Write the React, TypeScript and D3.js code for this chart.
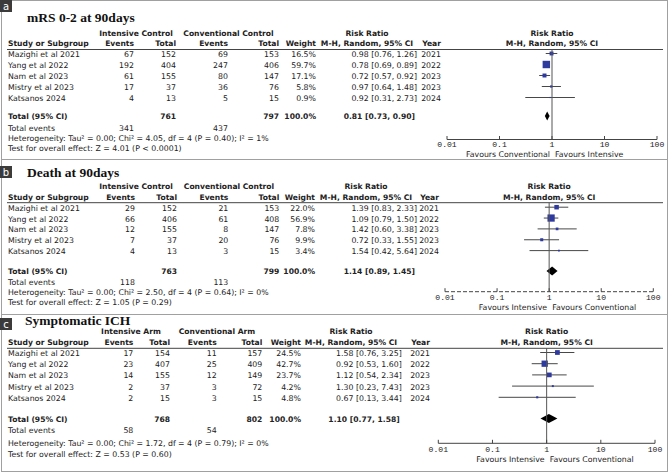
import React from "react";
import * as d3 from "d3";

// ---------- shared data ----------
const STUDIES = ["Mazighi et al 2021", "Yang et al 2022", "Nam et al 2023", "Mistry et al 2023", "Katsanos 2024"];
const YEARS = ["2021", "2022", "2023", "2023", "2024"];
const TICKS = [0.01, 0.1, 1, 10, 100];
const TICK_LABELS = ["0.01", "0.1", "1", "10", "100"];

// ---------- panel a: mRS 0-2 at 90days ----------
const A_INT_EVENTS = [67, 192, 61, 17, 4];
const A_INT_TOTAL = [152, 404, 155, 37, 13];
const A_CONV_EVENTS = [69, 247, 80, 36, 5];
const A_CONV_TOTAL = [153, 406, 147, 76, 15];
const A_WEIGHT = [16.5, 59.7, 17.1, 5.8, 0.9];
const A_RR = [0.98, 0.78, 0.72, 0.97, 0.92];
const A_LO = [0.76, 0.69, 0.57, 0.64, 0.31];
const A_HI = [1.26, 0.89, 0.92, 1.48, 2.73];
const A_TOTALS = [761, 797];
const A_TOTAL_EVENTS = [341, 437];
const A_POOLED = [0.81, 0.73, 0.9];

// ---------- panel b: Death at 90days ----------
const B_INT_EVENTS = [29, 66, 12, 7, 4];
const B_INT_TOTAL = [152, 406, 155, 37, 13];
const B_CONV_EVENTS = [21, 61, 8, 20, 3];
const B_CONV_TOTAL = [153, 408, 147, 76, 15];
const B_WEIGHT = [22.0, 56.9, 7.8, 9.9, 3.4];
const B_RR = [1.39, 1.09, 1.42, 0.72, 1.54];
const B_LO = [0.83, 0.79, 0.6, 0.33, 0.42];
const B_HI = [2.33, 1.5, 3.38, 1.55, 5.64];
const B_TOTALS = [763, 799];
const B_TOTAL_EVENTS = [118, 113];
const B_POOLED = [1.14, 0.89, 1.45];

// ---------- panel c: Symptomatic ICH ----------
const C_INT_EVENTS = [17, 23, 14, 2, 2];
const C_INT_TOTAL = [154, 407, 155, 37, 15];
const C_CONV_EVENTS = [11, 25, 12, 3, 3];
const C_CONV_TOTAL = [157, 409, 149, 72, 15];
const C_WEIGHT = [24.5, 42.7, 23.7, 4.2, 4.8];
const C_RR = [1.58, 0.92, 1.12, 1.3, 0.67];
const C_LO = [0.76, 0.53, 0.54, 0.23, 0.13];
const C_HI = [3.25, 1.6, 2.34, 7.43, 3.44];
const C_TOTALS = [768, 802];
const C_TOTAL_EVENTS = [58, 54];
const C_POOLED = [1.1, 0.77, 1.58];

const PANEL_A = {
  letter: "a", title: "mRS 0-2 at 90days", group1: "Intensive Control", group2: "Conventional Control",
  intEvents: A_INT_EVENTS, intTotal: A_INT_TOTAL, convEvents: A_CONV_EVENTS, convTotal: A_CONV_TOTAL,
  weight: A_WEIGHT, rr: A_RR, lo: A_LO, hi: A_HI, totals: A_TOTALS, totalEvents: A_TOTAL_EVENTS, pooled: A_POOLED,
  het: "Heterogeneity: Tau² = 0.00; Chi² = 4.05, df = 4 (P = 0.40); I² = 1%",
  test: "Test for overall effect: Z = 4.01 (P < 0.0001)",
  favLeft: "Favours Conventional", favRight: "Favours Intensive", dashedAxis: false,
};
const PANEL_B = {
  letter: "b", title: "Death at 90days", group1: "Intensive Control", group2: "Conventional Control",
  intEvents: B_INT_EVENTS, intTotal: B_INT_TOTAL, convEvents: B_CONV_EVENTS, convTotal: B_CONV_TOTAL,
  weight: B_WEIGHT, rr: B_RR, lo: B_LO, hi: B_HI, totals: B_TOTALS, totalEvents: B_TOTAL_EVENTS, pooled: B_POOLED,
  het: "Heterogeneity: Tau² = 0.00; Chi² = 2.50, df = 4 (P = 0.64); I² = 0%",
  test: "Test for overall effect: Z = 1.05 (P = 0.29)",
  favLeft: "Favours Intensive", favRight: "Favours Conventional", dashedAxis: true,
};
const PANEL_C = {
  letter: "c", title: "Symptomatic ICH", group1: "Intensive Arm", group2: "Conventional Arm",
  intEvents: C_INT_EVENTS, intTotal: C_INT_TOTAL, convEvents: C_CONV_EVENTS, convTotal: C_CONV_TOTAL,
  weight: C_WEIGHT, rr: C_RR, lo: C_LO, hi: C_HI, totals: C_TOTALS, totalEvents: C_TOTAL_EVENTS, pooled: C_POOLED,
  het: "Heterogeneity: Tau² = 0.00; Chi² = 1.72, df = 4 (P = 0.79); I² = 0%",
  test: "Test for overall effect: Z = 0.53 (P = 0.60)",
  favLeft: "Favours Intensive", favRight: "Favours Conventional", dashedAxis: false,
};

// ---------- layout (positions only) ----------
const LAYOUT_A = {
  boxY: 0, titleX: 27, titleY: 22, hdr1: 36, hdr2: 46, line: 49.5, row0: 57, rowStep: 11,
  totalY: 119, eventsY: 131, hetY: 141, testY: 151, axisY: 139.5, tickY: 146.6, favY: 156.6,
  ev1R: 134, tot1R: 176, ev2R: 228, tot2R: 279, wR: 316, rrR: 417, rrC: 367, yearR: 441,
  g1C: 136, g2C: 228.5, px0: 447, px1: 657,
};
const LAYOUT_B = {
  boxY: 166, titleX: 27, titleY: 176.7, hdr1: 189.3, hdr2: 200, line: 202.7, row0: 210.7, rowStep: 10.85,
  totalY: 274, eventsY: 284.7, hetY: 294.7, testY: 304.7, axisY: 291.7, tickY: 300.2, favY: 310,
  ev1R: 135, tot1R: 177, ev2R: 228.3, tot2R: 279.3, wR: 315, rrR: 417, rrC: 366, yearR: 439,
  g1C: 136, g2C: 229, px0: 445, px1: 653.3,
};
const LAYOUT_C = {
  boxY: 318, titleX: 25, titleY: 325.3, hdr1: 334.3, hdr2: 345, line: 348.3, row0: 356, rowStep: 11.2,
  totalY: 421.5, eventsY: 433.3, hetY: 446.3, testY: 456.7, axisY: 443.3, tickY: 451.8, favY: 461.7,
  ev1R: 133.3, tot1R: 170, ev2R: 216.7, tot2R: 262.3, wR: 301, rrR: 401.7, rrC: 351, yearR: 430,
  g1C: 131, g2C: 217, px0: 438.3, px1: 655,
};

const SANS = "'DejaVu Sans', Verdana, sans-serif";
const REG = 7.8;
const BOLD = 7.6;
const INK = "#222";
const SQUARE = "#2f3a9e";

const fmtCI = (r: number, l: number, h: number) => `${r.toFixed(2)} [${l.toFixed(2)}, ${h.toFixed(2)}]`;

function T(props: any) {
  const { b, anchor, children, ...rest } = props;
  return (
    <text
      fontFamily={SANS}
      fontSize={b ? BOLD : REG}
      fontWeight={b ? "bold" : "normal"}
      fill={INK}
      textAnchor={anchor || "start"}
      {...rest}
    >
      {children}
    </text>
  );
}

function Panel({ d, L }: { d: any; L: any }) {
  const x = d3.scaleLog().domain([0.01, 100]).range([L.px0, L.px1]);
  const size = d3.scaleSqrt().domain([0, 100]).range([0, 9.6]);
  const rowY = (i: number) => L.row0 + i * L.rowStep;
  const x1 = x(1);
  const [pr, plo, phi] = d.pooled;
  const dy = L.totalY - 3;
  const diamond = d3.line()([
    [x(plo), dy],
    [x(pr), dy - 4.5],
    [x(phi), dy],
    [x(pr), dy + 4.5],
  ]) + "Z";

  return (
    <g>
      {/* letter box */}
      <rect x={0} y={L.boxY} width={12} height={12} fill="#3b3b3b" />
      <text x={6} y={L.boxY + 9.5} fontFamily={SANS} fontSize={10} fill="#fff" textAnchor="middle">
        {d.letter}
      </text>
      {/* title */}
      <text x={L.titleX} y={L.titleY} fontFamily="'Liberation Serif', 'Times New Roman', serif" fontWeight="bold" fontSize={13.5} fill="#111">
        {d.title}
      </text>

      {/* headers */}
      <T b x={L.g1C} y={L.hdr1} anchor="middle">{d.group1}</T>
      <T b x={L.g2C} y={L.hdr1} anchor="middle">{d.group2}</T>
      <T b x={L.rrC} y={L.hdr1} anchor="middle">Risk Ratio</T>
      <T b x={x1} y={L.hdr1} anchor="middle">Risk Ratio</T>
      <T b x={8} y={L.hdr2}>Study or Subgroup</T>
      <T b x={L.ev1R} y={L.hdr2} anchor="end">Events</T>
      <T b x={L.tot1R} y={L.hdr2} anchor="end">Total</T>
      <T b x={L.ev2R} y={L.hdr2} anchor="end">Events</T>
      <T b x={L.tot2R} y={L.hdr2} anchor="end">Total</T>
      <T b x={L.wR} y={L.hdr2} anchor="end">Weight</T>
      <T b x={L.rrC} y={L.hdr2} anchor="middle">M-H, Random, 95% CI</T>
      <T b x={L.yearR} y={L.hdr2} anchor="end">Year</T>
      <T b x={x1} y={L.hdr2} anchor="middle">M-H, Random, 95% CI</T>
      <line x1={7} x2={663} y1={L.line} y2={L.line} stroke="#444" strokeWidth={1} />

      {/* study rows */}
      {STUDIES.map((s, i) => {
        const y = rowY(i);
        const my = y - 3.5;
        const sq = Math.max(1.2, size(d.weight[i]));
        return (
          <g key={s}>
            <T x={8} y={y}>{s}</T>
            <T x={L.ev1R} y={y} anchor="end">{d.intEvents[i]}</T>
            <T x={L.tot1R} y={y} anchor="end">{d.intTotal[i]}</T>
            <T x={L.ev2R} y={y} anchor="end">{d.convEvents[i]}</T>
            <T x={L.tot2R} y={y} anchor="end">{d.convTotal[i]}</T>
            <T x={L.wR} y={y} anchor="end">{d.weight[i].toFixed(1)}%</T>
            <T x={L.rrR} y={y} anchor="end">{fmtCI(d.rr[i], d.lo[i], d.hi[i])}</T>
            <T x={L.yearR} y={y} anchor="end">{YEARS[i]}</T>
            <line x1={x(d.lo[i])} x2={x(d.hi[i])} y1={my} y2={my} stroke="#333" strokeWidth={0.9} />
            <rect x={x(d.rr[i]) - sq / 2} y={my - sq / 2} width={sq} height={sq} fill={SQUARE} />
          </g>
        );
      })}

      {/* total row */}
      <T b x={8} y={L.totalY}>Total (95% CI)</T>
      <T b x={L.tot1R} y={L.totalY} anchor="end">{d.totals[0]}</T>
      <T b x={L.tot2R} y={L.totalY} anchor="end">{d.totals[1]}</T>
      <T b x={L.wR} y={L.totalY} anchor="end">100.0%</T>
      <T b x={L.rrR - 2} y={L.totalY} anchor="end">{fmtCI(pr, plo, phi)}</T>
      <path d={diamond} fill="#000" />

      <T x={8} y={L.eventsY}>Total events</T>
      <T x={L.ev1R} y={L.eventsY} anchor="end">{d.totalEvents[0]}</T>
      <T x={L.ev2R} y={L.eventsY} anchor="end">{d.totalEvents[1]}</T>
      <T x={8} y={L.hetY}>{d.het}</T>
      <T x={8} y={L.testY}>{d.test}</T>

      {/* null line */}
      <line x1={x1} x2={x1} y1={L.line} y2={L.axisY} stroke="#555" strokeWidth={1} />

      {/* axis */}
      <line
        x1={x(0.01)} x2={x(100)} y1={L.axisY} y2={L.axisY}
        stroke="#444" strokeWidth={1}
        strokeDasharray={d.dashedAxis ? "4,2" : undefined}
      />
      {TICKS.map((t, i) => (
        <g key={t}>
          <line x1={x(t)} x2={x(t)} y1={L.axisY} y2={L.axisY - 3.5} stroke="#444" strokeWidth={1} />
          <text x={x(t)} y={L.tickY} fontFamily="'Liberation Mono', 'Courier New', monospace" fontSize={8.1} fill={INK} textAnchor="middle">
            {TICK_LABELS[i]}
          </text>
        </g>
      ))}
      <T x={x1 - 2} y={L.favY} anchor="end">{d.favLeft}</T>
      <T x={x1 + 3} y={L.favY}>{d.favRight}</T>
    </g>
  );
}

export default function App() {
  return (
    <div style={{ position: "absolute", left: 0, top: 0, width: 669, height: 473, background: "#fff" }}>
      <svg width={669} height={473} style={{ display: "block" }}>
        <rect x={0} y={0} width={669} height={473} fill="#fff" />
        <rect x={1.5} y={0.5} width={666} height={471} fill="none" stroke="#a0a0a0" />
        <line x1={1.5} x2={667.5} y1={159.5} y2={159.5} stroke="#a0a0a0" />
        <line x1={1.5} x2={667.5} y1={314.5} y2={314.5} stroke="#a0a0a0" />
        <Panel d={PANEL_A} L={LAYOUT_A} />
        <Panel d={PANEL_B} L={LAYOUT_B} />
        <Panel d={PANEL_C} L={LAYOUT_C} />
      </svg>
    </div>
  );
}
